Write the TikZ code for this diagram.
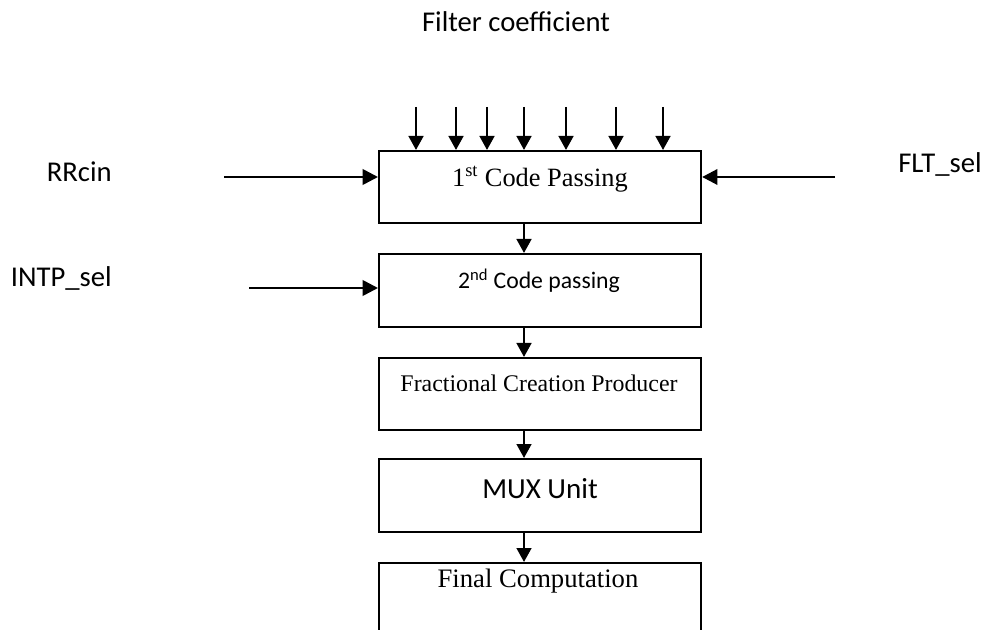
\documentclass[tikz,border=0pt]{standalone}
\usepackage{fontspec}
\setmainfont{Liberation Serif}
\newfontfamily\labelfont{Carlito}
\usetikzlibrary{arrows.meta}

\begin{document}
\begin{tikzpicture}[x=0.75pt,y=-0.75pt,
  blk/.style={draw,line width=1.6pt,anchor=north west,minimum width=241.5pt,inner sep=0pt},
  sig/.style={font=\labelfont\fontsize{21.5}{24}\selectfont,inner sep=0pt},
  wire/.style={line width=1.9pt,-{Triangle[length=10.5pt,width=11pt]}},
  inarrow/.style={line width=2pt,-{Triangle[length=11.5pt,width=11.5pt]}}]

\useasboundingbox (0,0) rectangle (987,630);
\clip (0,0) rectangle (987,630);

% processing blocks
\node[blk,minimum height=54pt]   (b1) at (378,150) {};
\node[blk,minimum height=54.75pt] (b2) at (378,253) {};
\node[blk,minimum height=54pt]   (b3) at (378,357) {};
\node[blk,minimum height=54.75pt] (b4) at (378,458) {};
\node[blk,minimum height=70pt]   (b5) at (378,562) {};

% block captions
\node[anchor=base,inner sep=0pt,font=\fontsize{19.8}{22}\selectfont] (t1) at (540,187)
  {1\textsuperscript{st} Code Passing};
\node[anchor=base,inner sep=0pt,font=\labelfont\fontsize{17.8}{20}\selectfont] (t2) at (539,289)
  {2\textsuperscript{nd} Code passing};
\node[anchor=base,inner sep=0pt,font=\fontsize{17.9}{20}\selectfont] (t3) at (539,391)
  {Fractional Creation Producer};
\node[anchor=base,inner sep=0pt,font=\labelfont\fontsize{21.8}{24}\selectfont] (t4) at (540,498)
  {MUX Unit};
\node[anchor=base,inner sep=0pt,font=\fontsize{20}{22}\selectfont] (t5) at (538,587)
  {Final Computation};

% signal names
\node[sig,anchor=base] (fc) at (516,32) {Filter coefficient};
\node[sig,anchor=base east] (rr) at (112,182) {RRcin};
\node[sig,anchor=base east] (ip) at (112,287) {INTP\_sel};
\node[sig,anchor=base west] (fs) at (898,173) {FLT\_sel};

% coefficient inputs
\foreach \i/\x in {1/416,2/456,3/487,4/524,5/566,6/616,7/663} {
  \coordinate (c\i) at (\x,107);
  \draw[wire] (c\i) -- (c\i |- b1.north);
}

% side inputs
\coordinate (rrs) at (224,177);
\coordinate (ips) at (249,288);
\coordinate (fss) at (835,177);
\draw[inarrow] (rrs) -- (rrs -| b1.west);
\draw[inarrow] (ips) -- (ips -| b2.west);
\draw[inarrow] (fss) -- (fss -| b1.east);

% chain between blocks
\coordinate (spine) at (524,0);
\draw[wire] (b1.south -| spine) -- (b2.north -| spine);
\draw[wire] (b2.south -| spine) -- (b3.north -| spine);
\draw[wire] (b3.south -| spine) -- (b4.north -| spine);
\draw[wire] (b4.south -| spine) -- (b5.north -| spine);
\end{tikzpicture}
\end{document}
